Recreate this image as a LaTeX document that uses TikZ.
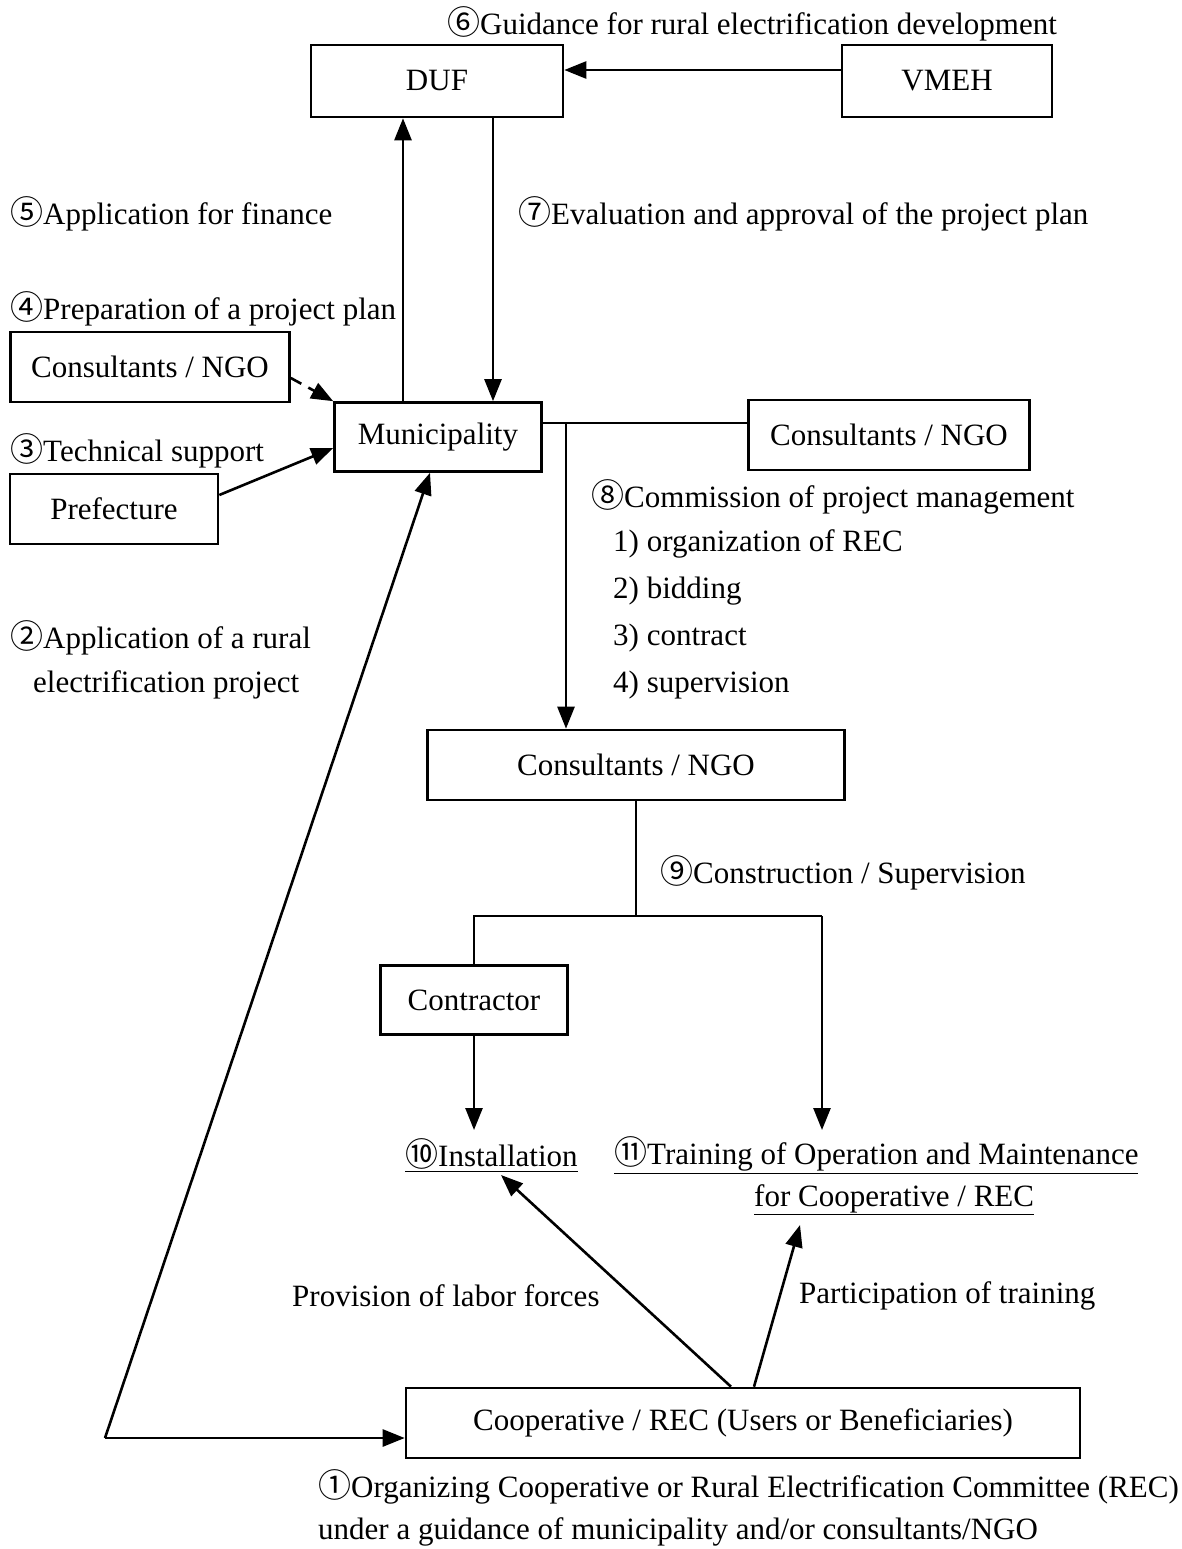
\documentclass[tikz,border=0pt]{standalone}
\usepackage{fontspec}
\setmainfont{Liberation Serif}
\newfontfamily\cjkfont{Noto Sans CJK JP}
\newcommand{\cnum}[1]{{\cjkfont\fontsize{33pt}{36pt}\selectfont #1}}
\usetikzlibrary{arrows.meta,calc}
\begin{document}
\begin{tikzpicture}[x=1pt,y=-1pt,
  every node/.style={font=\fontsize{31pt}{36pt}\selectfont},
  box/.style={draw,line width=2.6pt,inner sep=0pt,minimum height=70pt},
  lbl/.style={anchor=west,inner sep=0pt},
  ln/.style={line width=2.6pt},
  arr/.style={line width=2.6pt,-{Triangle[length=22pt,width=17pt]}}]
\useasboundingbox (0,0) rectangle (1181,1549);
% boxes
\node[box,minimum width=252pt,minimum height=72pt] (duf) at (437,81) {DUF};
\node[box,minimum width=210pt,minimum height=72pt] (vmeh) at (947,81) {VMEH};
\node[box,minimum width=279pt] (cl) at (150,367) {Consultants / NGO};
\node[box,minimum width=207pt,minimum height=69pt] (muni) at (438,437) {Municipality};
\node[box,minimum width=208pt] (pref) at (114,509) {Prefecture};
\node[box,minimum width=281pt] (cr) at (889,435) {Consultants / NGO};
\node[box,minimum width=417pt] (cm) at (636,765) {Consultants / NGO};
\node[box,minimum width=187pt,minimum height=69pt] (contr) at (474,1000) {Contractor};
\node[box,minimum width=674pt] (coop) at (743,1423) {Cooperative / REC (Users or Beneficiaries)};
% labels
\node[lbl] (l6) at (447,24) {\cnum{⑥}Guidance for rural electrification development};
\node[lbl] (l5) at (10,214) {\cnum{⑤}Application for finance};
\node[lbl] (l7) at (518,214) {\cnum{⑦}Evaluation and approval of the project plan};
\node[lbl] (l4) at (10,309) {\cnum{④}Preparation of a project plan};
\node[lbl] (l3) at (10,451) {\cnum{③}Technical support};
\node[lbl] (l8) at (591,497) {\cnum{⑧}Commission of project management};
\node[lbl] (l81) at (613,544) {1) organization of REC};
\node[lbl] (l82) at (613,591) {2) bidding};
\node[lbl] (l83) at (613,638) {3) contract};
\node[lbl] (l84) at (613,685) {4) supervision};
\node[lbl] (l2a) at (10,638) {\cnum{②}Application of a rural};
\node[lbl] (l2b) at (33,685) {electrification project};
\node[lbl] (l9) at (660,873) {\cnum{⑨}Construction / Supervision};
\node[lbl] (l10) at (405,1155) {\underline{\cnum{⑩}Installation}};
\node[lbl] (l11a) at (614,1155) {\underline{\cnum{⑪}Training of Operation and Maintenance}};
\node[lbl] (l11b) at (754,1200) {\underline{for Cooperative / REC}};
\node[lbl] (lp) at (292,1296) {Provision of labor forces};
\node[lbl] (lt) at (799,1296) {Participation of training};
\node[lbl] (l1a) at (318,1487) {\cnum{①}Organizing Cooperative or Rural Electrification Committee (REC)};
\node[lbl] (l1b) at (318,1532) {under a guidance of municipality and/or consultants/NGO};
% coordinates
\coordinate (j1) at (566,423);
\coordinate (j2) at (636,916);
\coordinate (j3) at (822,916);
\coordinate (tinst) at (474,1130);
\coordinate (ttr) at (822,1130);
\coordinate (ainst) at (501,1175);
\coordinate (atr) at (800,1225);
\coordinate (c2) at (105,1438);
% connectors
\draw[arr] ([yshift=11pt]vmeh.west) -- ([yshift=11pt]duf.east);
\draw[arr] (muni.north -| 403,0) -- (duf.south -| 403,0);
\draw[arr] (duf.south -| 493,0) -- (muni.north -| 493,0);
\draw[arr,dash pattern=on 12pt off 8pt] ([yshift=-11pt]cl.east) -- (muni.north west);
\draw[arr] ([yshift=14pt]pref.east) -- ([yshift=-11pt]muni.west);
\draw[ln] ([yshift=14pt]muni.east) -- ([yshift=12pt]cr.west);
\draw[arr] (j1) -- (j1 |- cm.north);
\draw[ln] (cm.south) -- (j2);
\draw[ln] (contr.north) -- (contr.north |- j2) -- (j3);
\draw[arr] (contr.south) -- (tinst);
\draw[arr] (j3) -- (ttr);
\draw[arr] ([xshift=-12pt]coop.north) -- (ainst);
\draw[arr] ([xshift=11pt]coop.north) -- (atr);
\draw[arr] (c2) -- ([xshift=-8pt]muni.south);
\draw[arr] (c2) -- ([yshift=-15pt]coop.west);
\end{tikzpicture}
\end{document}
